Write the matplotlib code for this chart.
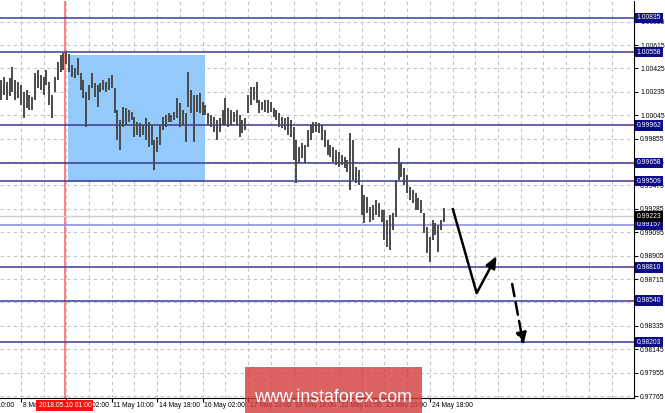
import matplotlib
matplotlib.use("Agg")
import matplotlib.pyplot as plt
import matplotlib.transforms as mtransforms
from matplotlib.patches import Rectangle
import numpy as np

# H2 bars (one bar every 2 hours)
highs = [1.00332, 1.00356, 1.00315, 1.00348, 1.00437, 1.00332, 1.00315, 1.00291, 1.00234, 1.00250,
         1.00210, 1.00194, 1.00388, 1.00413, 1.00372, 1.00356, 1.00413, 1.00315, 1.00210, 1.00356,
         1.00478, 1.00535, 1.00551, 1.00551, 1.00543, 1.00453, 1.00429, 1.00510, 1.00388, 1.00332,
         1.00234, 1.00291, 1.00388, 1.00307, 1.00291, 1.00307, 1.00332, 1.00315, 1.00348, 1.00372,
         1.00267, 1.00088, 1.00007, 1.00112, 1.00104, 1.00088, 1.00072, 1.00031, 0.99991, 0.99982,
         0.99966, 1.00023, 0.99991, 0.99966, 0.99844, 0.99869, 0.99966, 1.00031, 1.00047, 1.00064,
         1.00047, 1.00072, 1.00185, 1.00145, 1.00088, 1.00064, 1.00397, 1.00250, 1.00210, 1.00210,
         1.00226, 1.00153, 1.00129, 1.00064, 1.00047, 1.00031, 1.00007, 1.00023, 1.00088, 1.00185,
         1.00104, 1.00088, 1.00072, 1.00088, 1.00047, 1.00007, 1.00023, 1.00210, 1.00275, 1.00275,
         1.00315, 1.00169, 1.00153, 1.00169, 1.00169, 1.00153, 1.00104, 1.00088, 1.00064, 1.00031,
         1.00023, 1.00031, 1.00007, 0.99950, 0.99844, 0.99788, 0.99820, 0.99804, 0.99926, 0.99966,
         0.99991, 0.99991, 0.99982, 0.99966, 0.99926, 0.99844, 0.99804, 0.99788, 0.99763, 0.99747,
         0.99723, 0.99706, 0.99682, 0.99901, 0.99844, 0.99625, 0.99601, 0.99479, 0.99398, 0.99382,
         0.99300, 0.99317, 0.99357, 0.99333, 0.99276, 0.99276, 0.99195, 0.99235, 0.99252, 0.99520,
         0.99779, 0.99658, 0.99617, 0.99560, 0.99463, 0.99438, 0.99414, 0.99373, 0.99357, 0.99252,
         0.99138, 0.99057, 0.99195, 0.99170, 0.99154, 0.99195, 0.99292]
lows = [1.00169, 1.00210, 1.00169, 1.00202, 1.00234, 1.00169, 1.00185, 1.00129, 1.00023, 1.00104,
        1.00088, 1.00088, 1.00169, 1.00267, 1.00250, 1.00210, 1.00291, 1.00129, 1.00023, 1.00234,
        1.00332, 1.00397, 1.00413, 1.00461, 1.00397, 1.00356, 1.00348, 1.00372, 1.00250, 1.00185,
        0.99950, 1.00169, 1.00267, 1.00194, 1.00112, 1.00234, 1.00250, 1.00234, 1.00250, 1.00267,
        1.00064, 0.99844, 0.99763, 0.99950, 0.99966, 0.99991, 1.00007, 0.99869, 0.99885, 0.99869,
        0.99885, 0.99844, 0.99788, 0.99804, 0.99601, 0.99747, 0.99804, 0.99926, 0.99950, 0.99991,
        0.99991, 1.00007, 1.00023, 0.99950, 0.99966, 0.99828, 1.00112, 1.00064, 0.99828, 1.00072,
        1.00064, 1.00047, 1.00047, 0.99966, 0.99950, 0.99909, 0.99844, 0.99909, 0.99966, 0.99966,
        0.99950, 0.99966, 0.99991, 0.99966, 0.99869, 0.99901, 0.99926, 1.00064, 1.00129, 1.00169,
        1.00145, 1.00064, 1.00088, 1.00072, 1.00064, 1.00072, 1.00031, 1.00007, 0.99950, 0.99942,
        0.99926, 0.99885, 0.99869, 0.99682, 0.99495, 0.99658, 0.99698, 0.99658, 0.99788, 0.99844,
        0.99901, 0.99909, 0.99901, 0.99844, 0.99788, 0.99723, 0.99706, 0.99666, 0.99641, 0.99625,
        0.99641, 0.99617, 0.99585, 0.99438, 0.99520, 0.99495, 0.99479, 0.99235, 0.99170, 0.99252,
        0.99179, 0.99195, 0.99235, 0.99219, 0.99179, 0.99032, 0.98975, 0.98951, 0.99114, 0.99219,
        0.99520, 0.99544, 0.99479, 0.99414, 0.99357, 0.99333, 0.99276, 0.99276, 0.99252, 0.99089,
        0.98927, 0.98854, 0.99032, 0.99073, 0.98935, 0.99114, 0.99179]

levels = [1.00835, 1.00558, 0.99962, 0.99658, 0.99509, 0.99157, 0.98810, 0.98540, 0.98203]
current_price = 0.99223

price_ticks = [0.97765, 0.97955, 0.98145, 0.98335, 0.98525, 0.98715, 0.98905, 0.99095, 0.99285,
               0.99475, 0.99665, 0.99855, 1.00045, 1.00235, 1.00425, 1.00615, 1.00805]

# hours counted from 8 May 04:00
time_ticks = [-18, 14, 46, 78, 110, 142, 174, 206, 238, 270, 302]
time_labels = ['7 May 10:00', '8 May 18:00', '10 May 02:00', '11 May 10:00', '14 May 18:00',
               '16 May 02:00', '17 May 10:00', '18 May 18:00', '22 May 02:00', '23 May 10:00',
               '24 May 18:00']
marker_hour = 45
marker_label = '2018.05.10 01:00'

# highlighted zone (hours, price)
zone_x = [47, 144]
zone_y = [0.99500, 1.00537]

# forecast arrows (hours, price)
path_x = [318, 335, 349]
path_y = [0.99292, 0.98601, 0.98902]
dash_x = [360, 368]
dash_y = [0.98675, 0.98179]

plt.rcParams['font.family'] = ['Liberation Sans', 'DejaVu Sans']
small = 4.9

fig = plt.figure(figsize=(6.65, 4.13), dpi=100)
ax = fig.add_axes([0, 15 / 413, 634 / 665, 397 / 413])
ax.set_xlim(-0.7, 445.8)
ax.set_ylim(0.97749, 1.00973)

grid_kw = dict(color='#c4c4c4', lw=0.8, ls=(0, (3, 3)), zorder=0)
for h in range(-2, 446, 16):
    ax.axvline(h, **grid_kw)
for p in price_ticks:
    ax.axhline(p, **grid_kw)

ax.add_patch(Rectangle((zone_x[0], zone_y[0]), zone_x[1] - zone_x[0], zone_y[1] - zone_y[0],
                       facecolor='#94c9fb', edgecolor='none', zorder=1))

ax.axvline(marker_hour, color='#ff6a6a', lw=1.2, zorder=2)

for lv in levels:
    col = '#8888dd' if lv == 0.99157 else '#3a3a9a'
    ax.axhline(lv, color=col, lw=1.1, zorder=2)
ax.axhline(current_price, color='#cfcfcf', lw=1.0, zorder=2)

hours = np.arange(len(highs)) * 2
ax.vlines(hours, lows, highs, color='#4a4a4a', lw=1.4, zorder=4)

ax.plot(path_x[:2], path_y[:2], color='black', lw=1.8, zorder=5, solid_capstyle='butt')
ax.annotate('', xy=(path_x[2], path_y[2]), xytext=(path_x[1], path_y[1]),
            arrowprops=dict(arrowstyle='-|>,head_length=0.7,head_width=0.3', color='black', lw=1.8,
                            shrinkA=0, shrinkB=0), zorder=5)
ax.annotate('', xy=(dash_x[1], dash_y[1]), xytext=(dash_x[0], dash_y[0]),
            arrowprops=dict(arrowstyle='-|>,head_length=0.7,head_width=0.3', color='black', lw=1.8,
                            ls=(0, (5, 2.5)), shrinkA=0, shrinkB=0), zorder=5)

# axes look
for s in ['top', 'left']:
    ax.spines[s].set_visible(False)
ax.spines['right'].set_color('black')
ax.spines['bottom'].set_color('black')
ax.yaxis.tick_right()
ax.set_yticks(price_ticks)
ax.set_yticklabels(['%.5f' % p for p in price_ticks])
ax.tick_params(axis='y', length=3, width=0.8, pad=1.5, labelsize=small)
ax.set_xticks([t for t in time_ticks if t >= 0])
ax.set_xticklabels([])
ax.tick_params(axis='x', length=3, width=0.8)

trans_x = mtransforms.blended_transform_factory(ax.transData, ax.transAxes)
for t, lab in zip(time_ticks, time_labels):
    ax.text(t + 1.2, -0.011, lab, transform=trans_x, ha='left', va='top', fontsize=small,
            clip_on=False, zorder=6)
ax.text(marker_hour, -0.011, marker_label, transform=trans_x, ha='center', va='top', fontsize=small,
        color='white', clip_on=False, zorder=7,
        bbox=dict(boxstyle='square,pad=0.3', fc='#ff1010', ec='none'))

trans_y = mtransforms.blended_transform_factory(ax.transAxes, ax.transData)
for lv in levels:
    ax.text(1.004, lv, '%.5f' % lv, transform=trans_y, ha='left', va='center', fontsize=small,
            color='white', clip_on=False, zorder=8,
            bbox=dict(boxstyle='square,pad=0.25', fc='#0c0c86', ec='none'))
ax.text(1.004, current_price, '%.5f' % current_price, transform=trans_y, ha='left', va='center',
        fontsize=small, color='white', clip_on=False, zorder=9,
        bbox=dict(boxstyle='square,pad=0.25', fc='black', ec='none'))

# watermark
fig.patches.append(Rectangle((245 / 665, 0), 177 / 665, 46 / 413, transform=fig.transFigure,
                             facecolor='#d23c3c', alpha=0.8, edgecolor='none', zorder=10))
fig.text(333 / 665, 1 - 397 / 413, 'www.instaforex.com', ha='center', va='center', fontsize=12.8,
         color='white', zorder=11)

fig.savefig('out.png', dpi=100)
